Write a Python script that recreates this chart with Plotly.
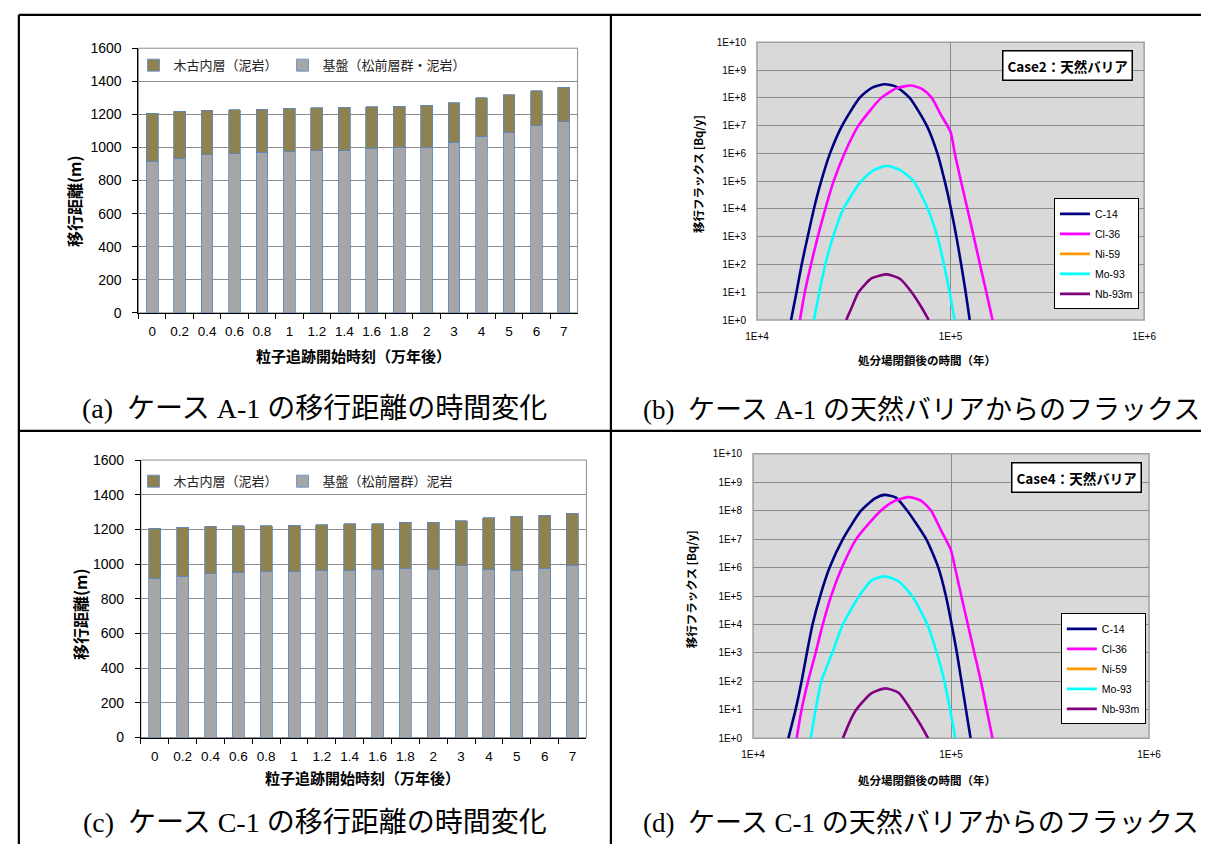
import plotly.graph_objects as go

# ---------------- data ----------------
categories = ["0", "0.2", "0.4", "0.6", "0.8", "1", "1.2", "1.4", "1.6", "1.8",
              "2", "3", "4", "5", "6", "7"]

# (a) case A-1 : migration distance (m)
a_base = [917, 936, 956, 962, 970, 974, 980, 984, 994, 998, 1002, 1031, 1065, 1088, 1132, 1156]
a_upper = [290, 283, 269, 267, 261, 264, 260, 258, 252, 250, 252, 239, 235, 230, 211, 209]

# (c) case C-1 : migration distance (m)
c_base = [917, 930, 945, 953, 955, 955, 962, 964, 968, 972, 968, 991, 970, 964, 974, 994]
c_upper = [291, 283, 274, 268, 266, 270, 266, 268, 266, 268, 272, 260, 296, 313, 309, 300]

legend_a = ["木古内層（泥岩）", "基盤（松前層群・泥岩）"]
legend_c = ["木古内層（泥岩）", "基盤（松前層群）泥岩"]

# (b) Case2 natural barrier flux [Bq/y] vs time (y)
b_c14_t = [15000, 16000, 17020, 18280, 19680, 21470, 23840, 27540, 33890, 39170, 45800,
           52480, 61510, 75340, 85500, 93300, 100500, 107200, 113500, 119700, 125600]
b_c14_f = [1, 10, 1e2, 1e3, 1e4, 1e5, 1e6, 1e7, 1e8, 2.3e8, 3.1e8,
           2.5e8, 1e8, 1e7, 1e6, 1e5, 1e4, 1e3, 1e2, 10, 1]
b_cl36_t = [16670, 17660, 19010, 20610, 22540, 24890, 28310, 33420, 43850, 52480, 62950,
            72110, 79980, 89100, 100000, 105200, 113200, 122200, 131800, 141900, 153100, 164800]
b_cl36_f = [1, 10, 1e2, 1e3, 1e4, 1e5, 1e6, 1e7, 1e8, 2.2e8, 2.8e8,
            2.0e8, 1e8, 2.5e7, 6e6, 1e6, 1e5, 1e4, 1e3, 1e2, 10, 1]
b_ni59_t = [None]
b_ni59_f = [None]
b_mo93_t = [19680, 20990, 22540, 24720, 27930, 34510, 40090, 46880, 54950, 64420,
            76380, 85510, 92470, 98850, 104950]
b_mo93_f = [1, 10, 1e2, 1e3, 1e4, 1e5, 2.5e5, 3.6e5, 2.5e5, 1e5, 1e4, 1e3, 1e2, 10, 1]
b_nb93m_t = [28900, 31250, 33440, 39170, 46900, 54950, 62950, 70500, 77100]
b_nb93m_f = [1, 3.5, 10, 32, 44, 30, 10, 3, 1]

# (d) Case4 natural barrier flux [Bq/y] vs time (y)
d_c14_t = [15070, 16390, 17580, 18700, 19970, 21830, 24360, 28420, 35100, 41310, 46130,
           52670, 60120, 74920, 86280, 94200, 100700, 107100, 112900, 119000, 125500]
d_c14_f = [1, 10, 1e2, 1e3, 1e4, 1e5, 1e6, 1e7, 1e8, 2.7e8, 3.6e8,
           2.9e8, 1e8, 1e7, 1e6, 1e5, 1e4, 1e3, 1e2, 10, 1]
d_cl36_t = [16600, 17580, 18950, 20700, 22490, 24780, 28110, 33170, 44160, 51980, 61440,
            70760, 79350, 89130, 100000, 104700, 112700, 121600, 131200, 141600, 151400, 162000]
d_cl36_f = [1, 10, 1e2, 1e3, 1e4, 1e5, 1e6, 1e7, 1e8, 2.2e8, 3e8,
            2.2e8, 1e8, 2e7, 4e6, 1e6, 1e5, 1e4, 1e3, 1e2, 10, 1]
d_ni59_t = [None]
d_ni59_f = [None]
d_mo93_t = [19540, 20700, 22110, 25120, 28420, 34350, 39540, 46560, 54320, 63640,
            75930, 84760, 92580, 98900, 105200]
d_mo93_f = [1, 10, 1e2, 1e3, 1e4, 1e5, 3.5e5, 4.9e5, 3.3e5, 1e5, 1e4, 1e3, 1e2, 10, 1]
d_nb93m_t = [28420, 30620, 33170, 39540, 46560, 54320, 62810, 70150, 76630]
d_nb93m_f = [1, 3.5, 10, 38, 57, 40, 10, 3, 1]

nuclides = ["C-14", "Cl-36", "Ni-59", "Mo-93", "Nb-93m"]
nuc_colors = ["#000080", "#FF00FF", "#FF9900", "#00FFFF", "#800080"]

flux_x_ticks = [1e4, 1e5, 1e6]
flux_x_text = ["1E+4", "1E+5", "1E+6"]
flux_y_ticks = [1e0, 1e1, 1e2, 1e3, 1e4, 1e5, 1e6, 1e7, 1e8, 1e9, 1e10]
flux_y_text = ["1E+0", "1E+1", "1E+2", "1E+3", "1E+4", "1E+5", "1E+6", "1E+7", "1E+8", "1E+9", "1E+10"]

# ---------------- helpers ----------------
W, H = 1213, 852
def xd(px):
    return px / W
def yd(py):
    return 1 - py / H

SANS = "Liberation Sans, Noto Sans CJK JP, sans-serif"
JP = "Noto Sans CJK JP, sans-serif"
SERIF = "Liberation Serif, Noto Sans CJK JP, serif"
OLIVE = "#8E8250"
GRAY = "#A6A6A6"
BAR_EDGE = "#5B87C5"

fig = go.Figure()

# bars (a)
fig.add_trace(go.Bar(x=categories, y=a_base, name=legend_a[1], marker=dict(color=GRAY, line=dict(color=BAR_EDGE, width=0.8)),
                     xaxis="x", yaxis="y", legend="legend"))
fig.add_trace(go.Bar(x=categories, y=a_upper, name=legend_a[0], marker=dict(color=OLIVE, line=dict(color=BAR_EDGE, width=0.8)),
                     xaxis="x", yaxis="y", legend="legend"))
# bars (c)
fig.add_trace(go.Bar(x=categories, y=c_base, name=legend_c[1], marker=dict(color=GRAY, line=dict(color=BAR_EDGE, width=0.8)),
                     xaxis="x3", yaxis="y3", legend="legend3"))
fig.add_trace(go.Bar(x=categories, y=c_upper, name=legend_c[0], marker=dict(color=OLIVE, line=dict(color=BAR_EDGE, width=0.8)),
                     xaxis="x3", yaxis="y3", legend="legend3"))

# curves (b)
b_series = [(b_c14_t, b_c14_f), (b_cl36_t, b_cl36_f), (b_ni59_t, b_ni59_f), (b_mo93_t, b_mo93_f), (b_nb93m_t, b_nb93m_f)]
for i, (t, f) in enumerate(b_series):
    fig.add_trace(go.Scatter(x=t, y=f, name=nuclides[i], mode="lines",
                             line=dict(color=nuc_colors[i], width=2.6, shape="spline", smoothing=0.6),
                             xaxis="x2", yaxis="y2", legend="legend2", legendgroup="b" + str(i)))
# curves (d)
d_series = [(d_c14_t, d_c14_f), (d_cl36_t, d_cl36_f), (d_ni59_t, d_ni59_f), (d_mo93_t, d_mo93_f), (d_nb93m_t, d_nb93m_f)]
for i, (t, f) in enumerate(d_series):
    fig.add_trace(go.Scatter(x=t, y=f, name=nuclides[i], mode="lines",
                             line=dict(color=nuc_colors[i], width=2.6, shape="spline", smoothing=0.6),
                             xaxis="x4", yaxis="y4", legend="legend4", legendgroup="d" + str(i)))

# ---------------- axes ----------------
def bar_xaxis(x0, x1, anchor):
    return dict(domain=[xd(x0), xd(x1)], anchor=anchor, type="category", showline=True, linecolor="black",
                linewidth=1, ticks="outside", tickson="boundaries", ticklen=5, tickcolor="black",
                tickangle=0, tickfont=dict(family=SANS, size=13.5, color="black"), ticklabelstandoff=6,
                showgrid=False, zeroline=False)

def bar_yaxis(y0, y1, anchor):
    return dict(domain=[yd(y0), yd(y1)], anchor=anchor, range=[0, 1600], dtick=200, showgrid=True,
                gridcolor="#8C8C8C", gridwidth=1, showline=True, linecolor="black", linewidth=1,
                ticks="outside", ticklen=5, tickcolor="black", tickfont=dict(family=SANS, size=14, color="black"),
                ticklabelstandoff=8, zeroline=False)

def flux_xaxis(x0, x1, anchor):
    return dict(domain=[xd(x0), xd(x1)], anchor=anchor, type="log", range=[4, 6], tickvals=flux_x_ticks,
                ticktext=flux_x_text, showgrid=True, gridcolor="#8C8C8C", gridwidth=1, showline=False,
                ticks="", tickfont=dict(family=SANS, size=10, color="black"), ticklabelstandoff=9, zeroline=False)

def flux_yaxis(y0, y1, anchor):
    return dict(domain=[yd(y0), yd(y1)], anchor=anchor, type="log", range=[0, 10], tickvals=flux_y_ticks,
                ticktext=flux_y_text, showgrid=True, gridcolor="#8C8C8C", gridwidth=1, showline=False,
                ticks="", tickfont=dict(family=SANS, size=10, color="black"), ticklabelstandoff=10, zeroline=False)

layout = dict(
    width=W, height=H, margin=dict(l=0, r=0, t=0, b=0, pad=0), autosize=False,
    paper_bgcolor="white", plot_bgcolor="rgba(0,0,0,0)",
    barmode="stack", bargap=0.57, showlegend=True,
    xaxis=bar_xaxis(129, 577, "y"), yaxis=bar_yaxis(310.7, 41, "x"),
    xaxis2=flux_xaxis(760, 1155, "y2"), yaxis2=flux_yaxis(318, 35, "x2"),
    xaxis3=bar_xaxis(131.5, 586, "y3"), yaxis3=bar_yaxis(743.5, 460.7, "x3"),
    xaxis4=flux_xaxis(756, 1160, "y4"), yaxis4=flux_yaxis(744.3, 454.3, "x4"),
    legend=dict(orientation="h", x=xd(124), y=yd(43), xanchor="left", yanchor="top", traceorder="reversed",
                font=dict(family=JP, size=13, color="#222"), bgcolor="rgba(0,0,0,0)"),
    legend3=dict(orientation="h", x=xd(124), y=yd(467), xanchor="left", yanchor="top", traceorder="reversed",
                 font=dict(family=JP, size=13, color="#222"), bgcolor="rgba(0,0,0,0)"),
    legend2=dict(x=xd(1063), y=yd(194), xanchor="left", yanchor="top", bgcolor="white",
                 bordercolor="black", borderwidth=1, font=dict(family=SANS, size=10.5, color="black"),
                 tracegroupgap=1),
    legend4=dict(x=xd(1070), y=yd(617), xanchor="left", yanchor="top", bgcolor="white",
                 bordercolor="black", borderwidth=1, font=dict(family=SANS, size=10.5, color="black"),
                 tracegroupgap=1),
)
fig.update_layout(**layout)

# ---------------- shapes ----------------
shapes = []
for xa, ya in [("x2", "y2"), ("x4", "y4")]:
    shapes.append(dict(type="rect", xref=xa + " domain", yref=ya + " domain", x0=0, x1=1, y0=0, y1=1,
                       fillcolor="#D9D9D9", line=dict(color="#A0A0A0", width=1.5), layer="below"))
for xa, ya in [("x", "y"), ("x3", "y3")]:
    shapes.append(dict(type="rect", xref=xa + " domain", yref=ya + " domain", x0=0, x1=1, y0=0, y1=1,
                       fillcolor="rgba(0,0,0,0)", line=dict(color="#8C8C8C", width=1), layer="below"))
# table rules
TL = dict(color="black", width=2.2)
shapes += [
    dict(type="line", xref="paper", yref="paper", x0=xd(7), x1=xd(1213), y0=yd(7), y1=yd(7), line=TL),
    dict(type="line", xref="paper", yref="paper", x0=xd(7), x1=xd(7), y0=yd(7), y1=yd(852), line=TL),
    dict(type="line", xref="paper", yref="paper", x0=xd(611), x1=xd(611), y0=yd(7), y1=yd(852), line=TL),
    dict(type="line", xref="paper", yref="paper", x0=xd(7), x1=xd(1213), y0=yd(431), y1=yd(431), line=TL),
]
fig.update_layout(shapes=shapes)

# ---------------- annotations ----------------
ann = []
def text(s, x, y, size, family=JP, angle=0, xanchor="center", color="black"):
    ann.append(dict(text=s, x=xd(x), y=yd(y), xref="paper", yref="paper", showarrow=False,
                    font=dict(family=family, size=size, color=color), textangle=angle,
                    xanchor=xanchor, yanchor="middle"))

text("<b>移行距離(m)</b>", 64, 197, 16, angle=-90)
text("<b>粒子追跡開始時刻（万年後）</b>", 348, 354, 15)
text("<b>移行距離(m)</b>", 70, 618, 16, angle=-90)
text("<b>粒子追跡開始時刻（万年後）</b>", 358, 784, 15)
text("<b>移行フラックス [Bq/y]</b>", 700, 169, 11.5, angle=-90)
text("<b>処分場閉鎖後の時間（年）</b>", 933, 359, 11.5)
text("<b>移行フラックス [Bq/y]</b>", 693, 592, 11.5, angle=-90)
text("<b>処分場閉鎖後の時間（年）</b>", 933, 787, 11.5)

text("(a)\u00a0\u00a0ケース A-1 の移行距離の時間変化", 309, 408, 28, family=SERIF)
text("(b)\u00a0\u00a0ケース A-1 の天然バリアからのフラックス", 642, 410, 27, family=SERIF, xanchor="left")
text("(c)\u00a0\u00a0ケース C-1 の移行距離の時間変化", 309, 830, 28, family=SERIF)
text("(d)\u00a0\u00a0ケース C-1 の天然バリアからのフラックス", 642, 831, 27, family=SERIF, xanchor="left")

for s, x, y in [("<b>Case2：天然バリア</b>", 1076.5, 59), ("<b>Case4：天然バリア</b>", 1086, 478)]:
    ann.append(dict(text=s, x=xd(x), y=yd(y), xref="paper", yref="paper", showarrow=False,
                    font=dict(family=JP, size=13.5, color="black"), bordercolor="black", borderwidth=1.5,
                    borderpad=4, bgcolor="white", xanchor="center", yanchor="middle"))
fig.update_layout(annotations=ann)

fig.write_html("out.html", config={"displayModeBar": False},
               post_script="document.body.style.margin='0px';")
